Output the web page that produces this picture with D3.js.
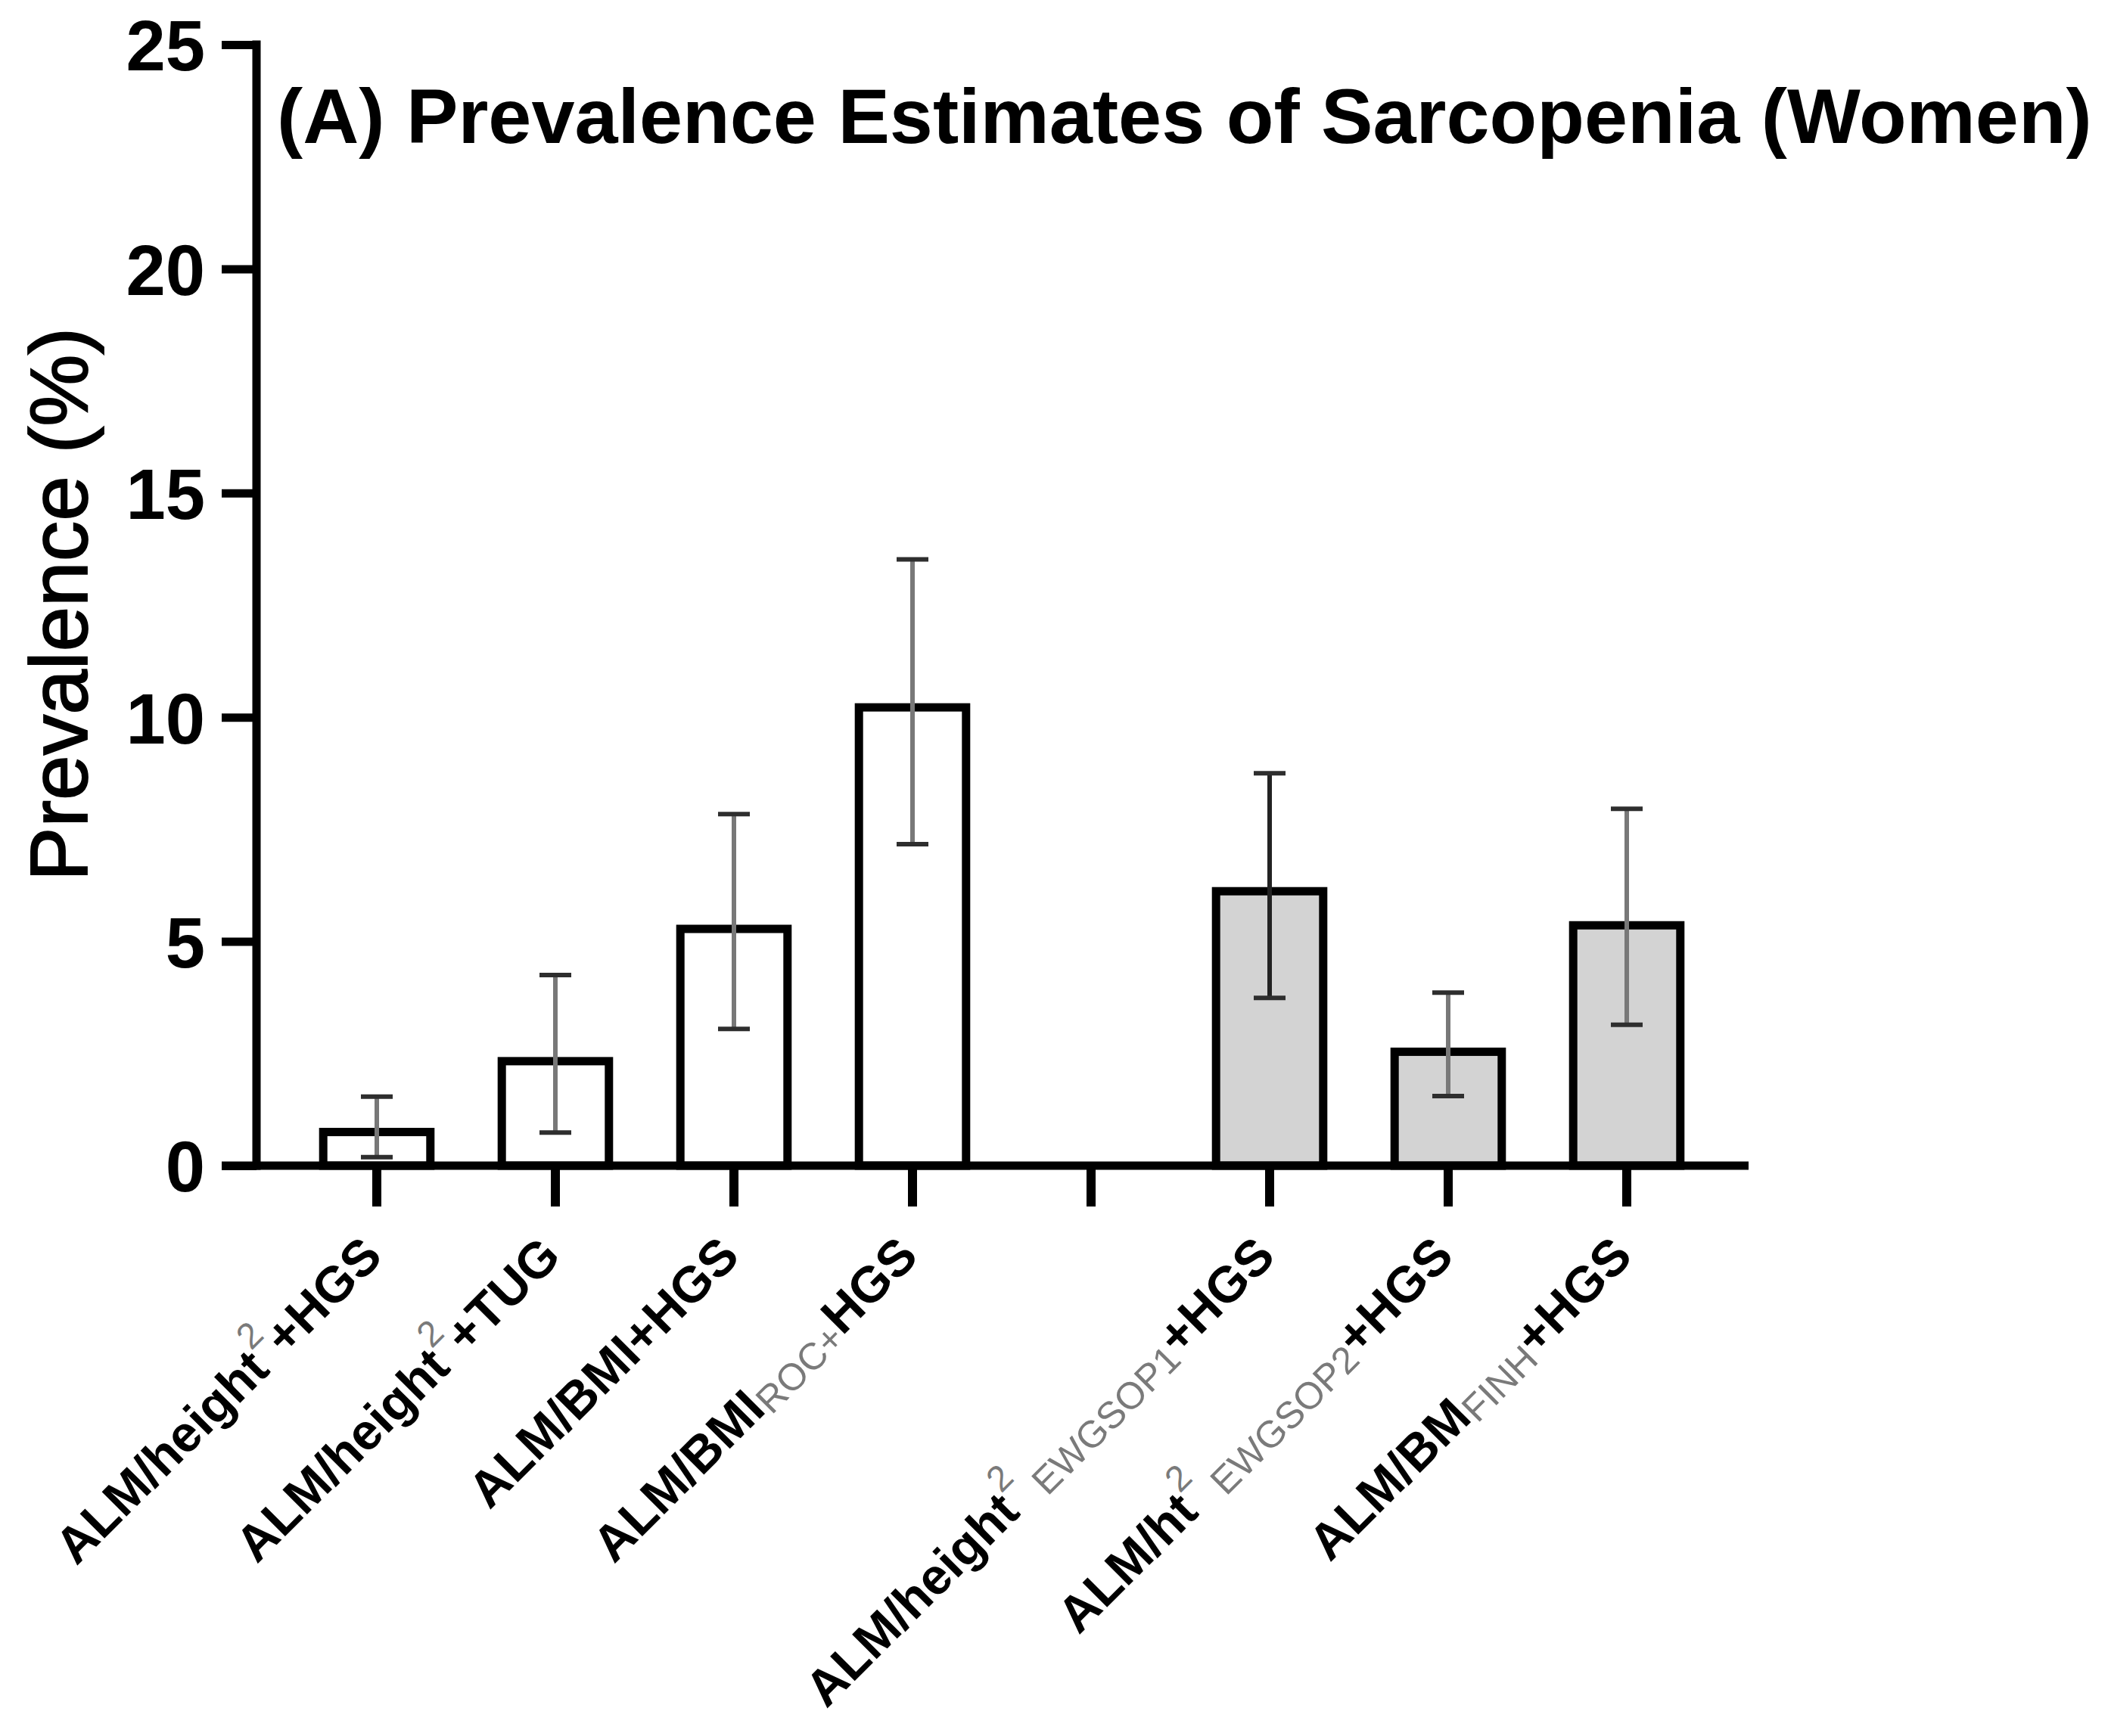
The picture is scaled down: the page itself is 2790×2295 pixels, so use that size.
<!DOCTYPE html>
<html><head><meta charset="utf-8">
<script src="https://cdn.jsdelivr.net/npm/d3@7"></script>
<style>html,body{margin:0;padding:0;background:#fff;} svg{display:block}</style>
</head><body>
<svg id="chart" width="2790" height="2295"></svg>
<script>
// ---------- data ----------
const categories = ["c1","c2","c3","c4","gap","c6","c7","c8"];
const labelParts = [
  [["ALM/height","b"],["2","sup"],["+HGS","b"]],
  [["ALM/height","b"],["2","sup"],["+TUG","b"]],
  [["ALM/BMI+HGS","b"]],
  [["ALM/BMI","b"],["ROC+","sub"],["HGS","b"]],
  [],
  [["ALM/height","b"],["2","sup"],[" EWGSOP1","sub"],["+HGS","b"]],
  [["ALM/ht","b"],["2","sup"],[" EWGSOP2","sub"],["+HGS","b"]],
  [["ALM/BM","b"],["FINH","sub"],["+HGS","b"]]
];
const prevalence = [0.75, 2.33, 5.28, 10.22, null, 6.12, 2.54, 5.36];
const ciLow      = [0.19, 0.74, 3.05, 7.17, null, 3.74, 1.55, 3.14];
const ciHigh     = [1.54, 4.25, 7.84, 13.52, null, 8.75, 3.86, 7.96];
const groups     = ["A","A","A","A",null,"B","B","B"];
const yTicks = [0, 5, 10, 15, 20, 25];
const titleText = "(A) Prevalence Estimates of Sarcopenia (Women)";
const yLabelText = "Prevalence (%)";

// ---------- styles / layout ----------
const fillColor = {A: "#ffffff", B: "#d3d3d3"};
const errLineColor = ["#787878","#787878","#787878","#787878",null,"#222222","#787878","#787878"];
const capColor = "#2e2e2e";
const axisX = 339, yTop = 59, yBottom = 1541;
const tickLen = 46, xRight = 2311;
const svg = d3.select("#chart");
const font = "'Liberation Sans', Arial, sans-serif";

const y = d3.scaleLinear().domain([0, 25]).range([yBottom, yTop]);
const x = d3.scaleBand().domain(categories).range([380, 2268]).paddingInner(0.40).paddingOuter(0.20);

// bars
const data = categories.map((c, i) => ({c, i, v: prevalence[i], lo: ciLow[i], hi: ciHigh[i], g: groups[i]}))
  .filter(d => d.v !== null);

svg.append("g").selectAll("rect").data(data).join("rect")
  .attr("x", d => x(d.c))
  .attr("width", x.bandwidth())
  .attr("y", d => y(d.v))
  .attr("height", d => y(0) - y(d.v))
  .attr("fill", d => fillColor[d.g])
  .attr("stroke", "#000")
  .attr("stroke-width", 11);

// error bars
const eb = svg.append("g");
const capW = 42;
data.forEach(d => {
  const cx = x(d.c) + x.bandwidth() / 2;
  eb.append("line").attr("x1", cx).attr("x2", cx).attr("y1", y(d.hi)).attr("y2", y(d.lo))
    .attr("stroke", errLineColor[d.i]).attr("stroke-width", 6);
  [d.hi, d.lo].forEach(v => {
    eb.append("line").attr("x1", cx - capW / 2).attr("x2", cx + capW / 2).attr("y1", y(v)).attr("y2", y(v))
      .attr("stroke", capColor).attr("stroke-width", 6);
  });
});

// axes
const yAxis = svg.append("g").attr("transform", `translate(${axisX},0)`)
  .call(d3.axisLeft(y).tickValues(yTicks).tickSize(tickLen).tickPadding(22));
yAxis.select(".domain").remove();
yAxis.selectAll(".tick line").attr("stroke", "#000").attr("stroke-width", 11);
yAxis.selectAll(".tick text").attr("font-family", font).attr("font-weight", "bold")
  .attr("font-size", 94).attr("fill", "#000").attr("dy", "0.36em");

const xAxis = svg.append("g").attr("transform", `translate(0,${yBottom})`)
  .call(d3.axisBottom(x).tickSize(54).tickFormat(""));
xAxis.select(".domain").remove();
xAxis.selectAll(".tick line").attr("stroke", "#000").attr("stroke-width", 12);

svg.append("line").attr("x1", axisX).attr("x2", axisX).attr("y1", yTop - 5.5).attr("y2", yBottom + 5.5)
  .attr("stroke", "#000").attr("stroke-width", 11);
svg.append("line").attr("x1", axisX - tickLen).attr("x2", xRight).attr("y1", yBottom).attr("y2", yBottom)
  .attr("stroke", "#000").attr("stroke-width", 11);

// x labels
const mainSize = 67, supSize = 48, subSize = 50;
const supRaise = 38, subDrop = 8;
categories.forEach((c, i) => {
  const parts = labelParts[i];
  if (!parts.length) return;
  const cx = x(c) + x.bandwidth() / 2 + 10;
  const t = svg.append("text")
    .attr("transform", `translate(${cx},1664) rotate(-45)`)
    .attr("text-anchor", "end").attr("font-family", font).attr("xml:space", "preserve");
  let shift = 0;
  parts.forEach(([txt, kind]) => {
    let target = 0;
    if (kind === "sup") target = -supRaise;
    if (kind === "sub") target = subDrop;
    const ts = t.append("tspan").text(txt).attr("dy", target - shift);
    shift = target;
    if (kind === "b") ts.attr("font-weight", "bold").attr("font-size", mainSize).attr("fill", "#000");
    else ts.attr("font-weight", "normal").attr("font-size", kind === "sup" ? supSize : subSize).attr("fill", "#7a7a7a");
  });
});

// title
const title = svg.append("text").attr("x", 366).attr("y", 189)
  .attr("font-family", font).attr("font-weight", "bold").attr("font-size", 101).attr("fill", "#000")
  .text(titleText);
const tw = title.node().getComputedTextLength();
title.attr("font-size", 101 * 2399 / tw);

// y label
const yl = svg.append("text").attr("transform", "translate(115,799) rotate(-90)")
  .attr("text-anchor", "middle").attr("font-family", font).attr("font-size", 108).attr("fill", "#000")
  .attr("stroke", "#000").attr("stroke-width", 1.8)
  .text(yLabelText);
const yw = yl.node().getComputedTextLength();
yl.attr("font-size", 108 * 732 / yw);
</script>
</body></html>
